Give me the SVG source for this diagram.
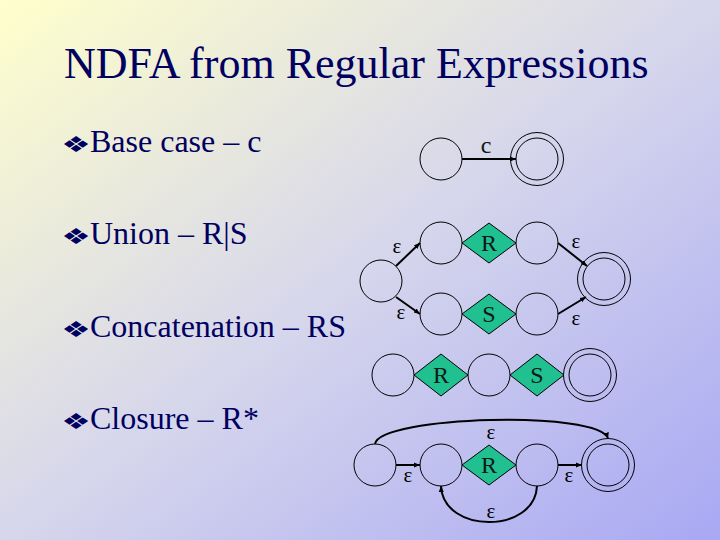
<svg xmlns="http://www.w3.org/2000/svg" width="720" height="540" viewBox="0 0 720 540">
<defs>
<linearGradient id="bg" x1="0" y1="0" x2="1" y2="1">
<stop offset="0" stop-color="#FFFFCC"/>
<stop offset="0.5" stop-color="#D6D6EC"/>
<stop offset="1" stop-color="#A8A8F4"/>
</linearGradient>
<marker id="arr" markerUnits="userSpaceOnUse" markerWidth="7" markerHeight="7" viewBox="0 0 7 7" refX="6" refY="3.5" orient="auto">
<path d="M0,1 L6,3.5 L0,6 Z" fill="#000"/>
</marker>
<style>
.title{font-family:"Liberation Serif","Times New Roman",serif;font-size:44px;fill:#000060}
.bul{font-family:"Liberation Serif","Times New Roman",serif;font-size:32px;fill:#000060}
.dot{font-family:"DejaVu Sans",sans-serif;font-size:22px;fill:#000060;text-anchor:middle}
.st{fill:none;stroke:#000;stroke-width:1}
.dm{fill:#20C090;stroke:#000;stroke-width:1}
.lb{font-family:"Liberation Serif","Times New Roman",serif;font-size:24px;fill:#0A1A1A;text-anchor:middle}
.ep{font-family:"Liberation Serif","Times New Roman",serif;font-size:21px;fill:#000;text-anchor:middle}
.ed{fill:none;stroke:#000;stroke-width:2;marker-end:url(#arr)}
</style>
</defs>
<rect width="720" height="540" fill="url(#bg)"/>
<text class="title" x="64" y="78">NDFA from Regular Expressions</text>
<g id="bullets">
<text class="dot" transform="translate(76,152) scale(1.5,1)">❖</text>
<text class="bul" x="90" y="152">Base case – c</text>
<text class="dot" transform="translate(76,244) scale(1.5,1)">❖</text>
<text class="bul" x="90" y="244">Union – R|S</text>
<text class="dot" transform="translate(76,337) scale(1.5,1)">❖</text>
<text class="bul" x="90" y="337">Concatenation – RS</text>
<text class="dot" transform="translate(76,429) scale(1.5,1)">❖</text>
<text class="bul" x="90" y="429">Closure – R*</text>
</g>
<!-- Base case -->
<g id="b1"><circle class="st" cx="441" cy="159" r="21"/></g>
<g id="b2"><circle class="st" cx="537" cy="159" r="26.5"/><circle class="st" cx="537" cy="159" r="21"/></g>
<!-- Union -->
<g id="u0"><circle class="st" cx="381" cy="281" r="21"/></g>
<g id="u1"><circle class="st" cx="441" cy="243" r="21"/></g>
<g id="uR"><polygon class="dm" points="462,243 489,223 516,243 489,263"/><text class="lb" x="489" y="251">R</text></g>
<g id="u2"><circle class="st" cx="537" cy="243" r="21"/></g>
<g id="u3"><circle class="st" cx="441" cy="314" r="21"/></g>
<g id="uS"><polygon class="dm" points="462,314 489,294 516,314 489,334"/><text class="lb" x="489" y="322">S</text></g>
<g id="u4"><circle class="st" cx="537" cy="314" r="21"/></g>
<g id="uf"><circle class="st" cx="604" cy="279" r="26.5"/><circle class="st" cx="604" cy="279" r="21"/></g>
<!-- Concatenation -->
<g id="c1"><circle class="st" cx="393" cy="375" r="21"/></g>
<g id="cR"><polygon class="dm" points="414,375 441,354 468,375 441,396"/><text class="lb" x="441" y="383">R</text></g>
<g id="c2"><circle class="st" cx="489" cy="375" r="21"/></g>
<g id="cS"><polygon class="dm" points="510,375 537,354 564,375 537,396"/><text class="lb" x="537" y="383">S</text></g>
<g id="cf"><circle class="st" cx="590" cy="375" r="26.5"/><circle class="st" cx="590" cy="375" r="21"/></g>
<!-- Closure -->
<g id="k0"><circle class="st" cx="375" cy="465" r="21"/></g>
<g id="k1"><circle class="st" cx="441" cy="465" r="21"/></g>
<g id="kR"><polygon class="dm" points="462,465 489,445 516,465 489,485"/><text class="lb" x="489" y="473">R</text></g>
<g id="k2"><circle class="st" cx="537" cy="465" r="21"/></g>
<g id="kf"><circle class="st" cx="608" cy="465" r="26.5"/><circle class="st" cx="608" cy="465" r="21"/></g>
<g id="connectors">
<line class="ed" x1="462" y1="159" x2="516" y2="159"/>
<text class="lb" x="486" y="153">c</text>
<line class="ed" x1="396" y1="266" x2="420" y2="243"/>
<line class="ed" x1="396" y1="297" x2="420" y2="314"/>
<line class="ed" x1="558" y1="243" x2="587" y2="266"/>
<line class="ed" x1="558" y1="314" x2="586" y2="297"/>
<text class="ep" x="397" y="253">ε</text>
<text class="ep" x="401" y="319">ε</text>
<text class="ep" x="576" y="248">ε</text>
<text class="ep" x="576" y="325">ε</text>
<line class="ed" x1="396" y1="465" x2="420" y2="465"/>
<line class="ed" x1="558" y1="465" x2="582" y2="465"/>
<path class="ed" d="M375,444 C380,416 600,410 608,438.5"/>
<path class="ed" d="M537,486 C535,534 443,534 441,486"/>
<text class="ep" x="491" y="439">ε</text>
<text class="ep" x="491" y="518">ε</text>
<text class="ep" x="408" y="482">ε</text>
<text class="ep" x="569" y="482">ε</text>
</g>
</svg>
